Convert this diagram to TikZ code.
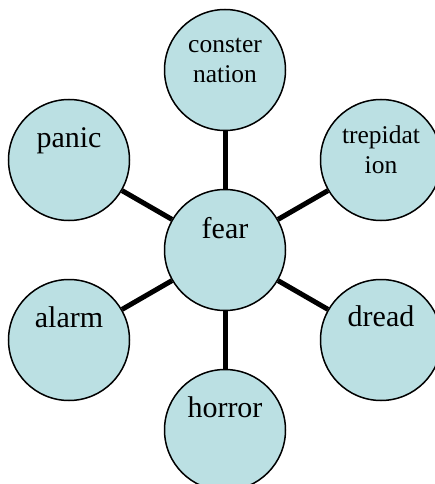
\documentclass[tikz,border=0pt]{standalone}
\usepackage{fontspec}
\setmainfont{Liberation Serif}
\definecolor{bubble}{RGB}{187,224,227}
\tikzset{
  bub/.style={circle, draw=black, line width=1.5pt, fill=bubble, minimum size=121pt, inner sep=0pt},
  conn/.style={draw=black, line width=5pt},
  big/.style={font=\fontsize{30}{35}\selectfont, anchor=base, inner sep=0pt},
  small/.style={font=\fontsize{25.5}{30}\selectfont, anchor=base, inner sep=0pt}
}
\begin{document}
\begin{tikzpicture}[x=1pt,y=-1pt]
\useasboundingbox (0,0) rectangle (434,484);
\node[bub] (fear) at (225,250) {};
\node[bub] (const) at (225,70) {};
\node[bub] (panic) at (69,160) {};
\node[bub] (trep) at (381,160) {};
\node[bub] (alarm) at (69,340) {};
\node[bub] (dread) at (381,340) {};
\node[bub] (horror) at (225,430) {};
\draw[conn] (fear) -- (const);
\draw[conn] (fear) -- (panic);
\draw[conn] (fear) -- (trep);
\draw[conn] (fear) -- (alarm);
\draw[conn] (fear) -- (dread);
\draw[conn] (fear) -- (horror);
\node[big] (tfear) at ([yshift=12pt]fear.center) {fear};
\node[big] (tpanic) at ([yshift=13pt]panic.center) {panic};
\node[big] (talarm) at ([yshift=13pt]alarm.center) {alarm};
\node[big] (tdread) at ([yshift=14pt]dread.center) {dread};
\node[big] (thorror) at ([yshift=13pt]horror.center) {horror};
\node[small] (tconst1) at ([yshift=17pt]const.center) {conster};
\node[small] (tconst2) at ([yshift=-13pt]const.center) {nation};
\node[small] (ttrep1) at ([yshift=17pt]trep.center) {trepidat};
\node[small] (ttrep2) at ([yshift=-13pt]trep.center) {ion};
\end{tikzpicture}
\end{document}
